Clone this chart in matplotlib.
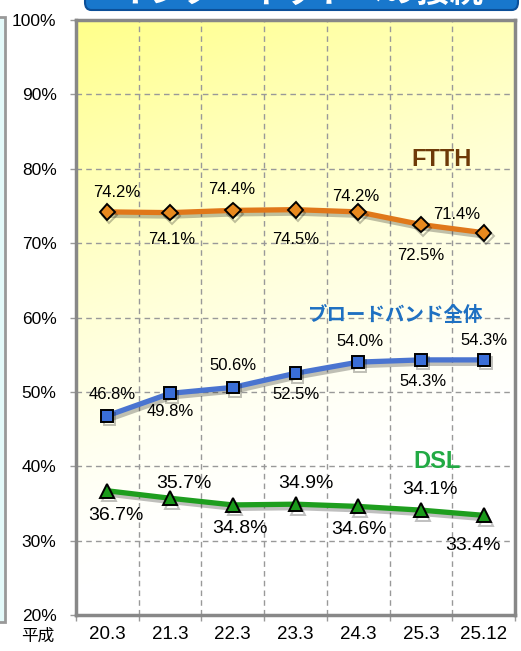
import numpy as np
import matplotlib
matplotlib.use("Agg")
import matplotlib.pyplot as plt
from matplotlib.patches import FancyBboxPatch, Rectangle
import matplotlib.patheffects as pe

plt.rcParams['font.family'] = ['Liberation Sans', 'Noto Sans CJK JP', 'DejaVu Sans']

# ---- data ----
periods = ['20.3', '21.3', '22.3', '23.3', '24.3', '25.3', '25.12']
ftth = [74.2, 74.1, 74.4, 74.5, 74.2, 72.5, 71.4]
broadband = [46.8, 49.8, 50.6, 52.5, 54.0, 54.3, 54.3]
dsl = [36.7, 35.7, 34.8, 34.9, 34.6, 34.1, 33.4]
yticks = [20, 30, 40, 50, 60, 70, 80, 90, 100]
series_names = ['FTTH', 'ブロードバンド全体', 'DSL']

# label offsets (pixels) - layout only
ftth_off = [(9, 19), (2, -27), (-1, 21), (0, -30), (-2, 15), (0, -31), (-27, 18)]
bb_off = [(5, 21), (0, -18), (0, 22), (1, -21), (2, 21), (2, -22), (0, 19)]
dsl_off = [(9, -25), (14, 15), (7, -24), (10, 21), (1, -23), (9, 21), (-11, -30)]

W, H = 521, 651
fig = plt.figure(figsize=(W / 100, H / 100), dpi=100)

# left panel remnant
fig.patches.append(Rectangle((-20 / W, 1 - 622 / H), 25 / W, (622 - 17) / H,
                             transform=fig.transFigure, facecolor='#E4FAFA',
                             edgecolor='#999999', lw=2, zorder=0))
# title banner (cut off at top)
fig.patches.append(FancyBboxPatch((85 / W, 1 - 10 / H), 433 / W, 30 / H,
                                  boxstyle='round,pad=0,rounding_size=0.012',
                                  transform=fig.transFigure, facecolor='#1877CC',
                                  edgecolor='#0C4F98', lw=1.5, zorder=1))
fig.text(300 / W, 1 - 9 / H, 'インターネットへの接続', color='white', fontsize=24,
         fontweight='bold', ha='center', va='bottom', family=['Noto Sans CJK JP'], zorder=2)

ax = fig.add_axes([76 / W, 1 - 615 / H, (515 - 76) / W, (615 - 20) / H])
x = np.arange(len(periods))

# gradient background (yellow top-left -> white bottom-right)
gx = np.linspace(0, 1, 200)
gy = np.linspace(0, 1, 200)
GX, GY = np.meshgrid(gx, gy)
t = np.clip(0.3 * GX + 1.05 * GY, 0, 1)
a = (1 - t) ** 1.4
img = np.zeros((200, 200, 4))
img[..., 0] = 1.0
img[..., 1] = 1.0
img[..., 2] = 1 - 0.46 * a
img[..., 3] = 1.0
ax.imshow(img, extent=[-0.5, len(periods) - 0.5, 20, 100], origin='upper',
          aspect='auto', zorder=0)
ax.set_xlim(-0.5, len(periods) - 0.5)
ax.set_ylim(20, 100)

# grid
ax.set_xticks(np.arange(-0.5, len(periods), 1.0))
ax.set_xticklabels([])
ax.set_xticks(x, minor=True)
ax.set_xticklabels(periods, minor=True, fontsize=13.5)
ax.tick_params(axis='x', which='minor', length=0, pad=8)
ax.tick_params(axis='x', which='major', length=4, color='#999999', width=1)
ax.set_yticks(yticks)
ax.set_yticklabels([f'{v}%' for v in yticks], fontsize=12.5)
ax.tick_params(axis='y', length=4, color='#999999', width=1, pad=10)
ax.grid(True, which='major', color='#999999', linestyle=(0, (4, 3)), lw=1, zorder=1)
for s in ax.spines.values():
    s.set_color('#888888')
    s.set_linewidth(2.5)

shadow = [pe.SimpleLineShadow(offset=(1.5, -2.5), shadow_color='black', alpha=0.25),
          pe.Normal()]

def draw(vals, lc, fc, marker, ms, offs, fs):
    ax.plot(x, vals, color=lc, lw=3.8, marker=marker, ms=ms, mfc=fc,
            mec='black', mew=1.4, zorder=4, path_effects=shadow, solid_capstyle='round')
    for xi, v, (dx, dy) in zip(x, vals, offs):
        ax.annotate(f'{v:.1f}%', (xi, v), xytext=(dx, dy), textcoords='offset pixels',
                    ha='center', va='center', fontsize=fs, color='black', zorder=5)

draw(ftth, '#E0781A', '#E8891E', 'D', 8, ftth_off, 12)
draw(broadband, '#4A74D0', '#3A6ED8', 's', 8.5, bb_off, 12)
draw(dsl, '#1E9E1E', '#1A9A1A', '^', 10, dsl_off, 14)

ax.text(5.33, 81.2, series_names[0], color='#6E3A08', fontsize=17, fontweight='bold',
        ha='center', va='center', zorder=5)
ax.text(4.6, 60.3, series_names[1], color='#1E70C2', fontsize=14, fontweight='bold',
        ha='center', va='center', family=['Noto Sans CJK JP'], zorder=5)
ax.text(5.26, 40.7, series_names[2], color='#22AA44', fontsize=17, fontweight='bold',
        ha='center', va='center', zorder=5)

fig.text(38 / W, 1 - 636 / H, '平成', fontsize=12, ha='center', va='center',
         family=['Noto Sans CJK JP'])

fig.savefig('out.png', dpi=100)
